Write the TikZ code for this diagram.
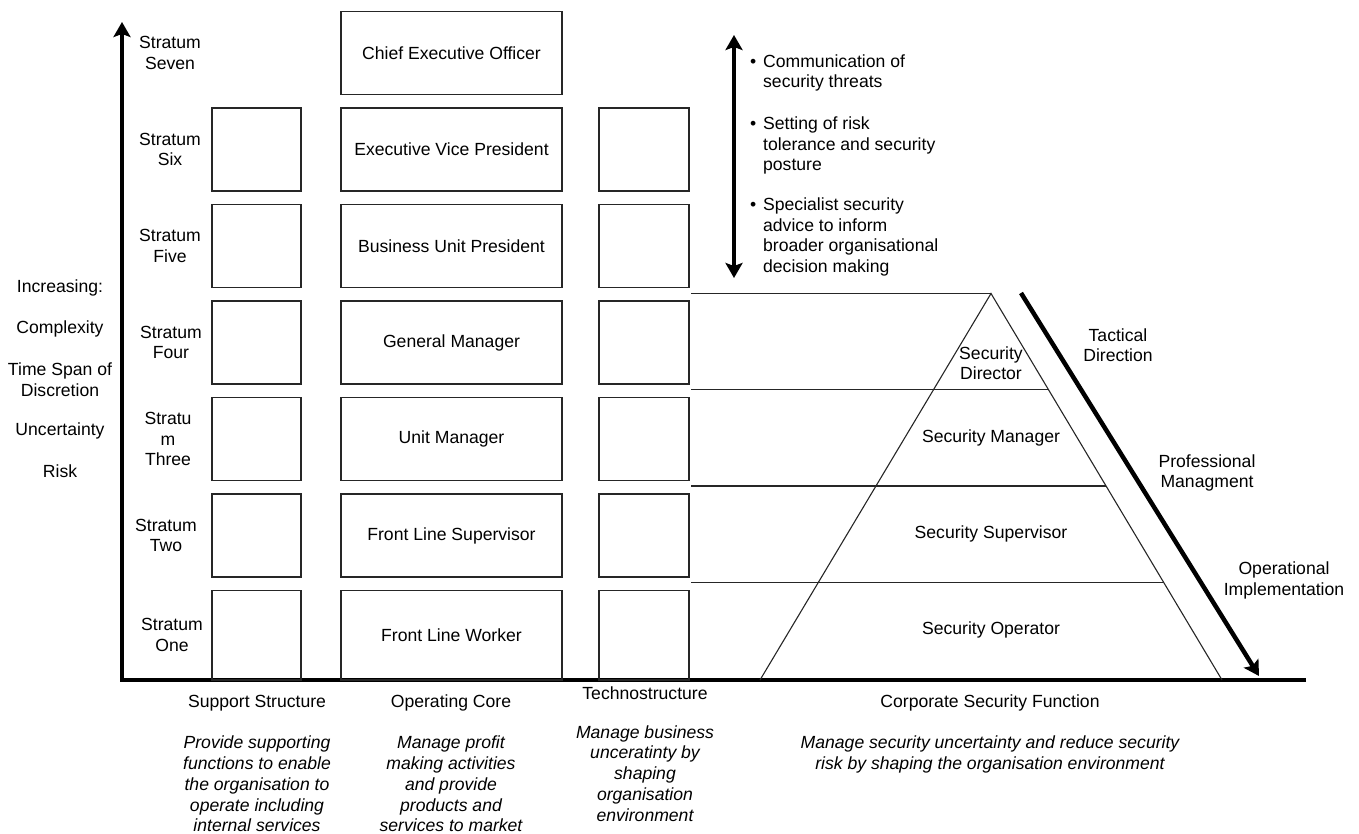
\documentclass[tikz,border=0pt]{standalone}
\usepackage{fontspec}
\setmainfont{Liberation Sans}
\usetikzlibrary{arrows.meta}
\begin{document}
\begin{tikzpicture}[x=1pt,y=-1pt,
  every node/.style={font=\fontsize{17.6}{20.5}\selectfont, text=black, inner sep=0pt},
  cell/.style={draw=black!85, line width=1.5pt, minimum height=83pt},
  supbox/.style={cell, minimum width=89pt},
  corebox/.style={cell, minimum width=221pt},
  techbox/.style={cell, minimum width=90pt},
  lbl/.style={align=center},
  desc/.style={align=center, font=\fontsize{17.6}{20.8}\selectfont\itshape},
  thinline/.style={draw=black!85, line width=1.3pt},
  pyrline/.style={draw=black!85, line width=1.1pt},
  axisline/.style={line width=4.5pt, draw=black, line join=miter},
  bigtip/.style={-{Stealth[length=15pt,width=17pt,inset=3pt]}},
  dbltip/.style={{Stealth[length=15pt,width=17pt,inset=3pt]}-{Stealth[length=15pt,width=17pt,inset=3pt]}},
]
\useasboundingbox (0,0) rectangle (1359,834);

% axes
\coordinate (origin) at (122,680);
\coordinate (ytop) at (122,22);
\coordinate (xend) at (1306,680);
\draw[axisline, bigtip] (xend) -- (origin) -- (ytop);

% operating core
\node[corebox] (ceo) at (451.5,53) {Chief Executive Officer};
\node[corebox] (evp) at (451.5,149.5) {Executive Vice President};
\node[corebox] (bup) at (451.5,246) {Business Unit President};
\node[corebox] (gm)  at (451.5,342.5) {General Manager};
\node[corebox] (um)  at (451.5,439) {Unit Manager};
\node[corebox] (fls) at (451.5,535.5) {Front Line Supervisor};
\node[corebox, minimum height=89.5pt] (flw) at (451.5,635.25) {Front Line Worker};

% support structure
\node[supbox] (s6) at (256.5,149.5) {};
\node[supbox] (s5) at (256.5,246) {};
\node[supbox] (s4) at (256.5,342.5) {};
\node[supbox] (s3) at (256.5,439) {};
\node[supbox] (s2) at (256.5,535.5) {};
\node[supbox, minimum height=89.5pt] (s1) at (256.5,635.25) {};

% technostructure
\node[techbox] (t6) at (644,149.5) {};
\node[techbox] (t5) at (644,246) {};
\node[techbox] (t4) at (644,342.5) {};
\node[techbox] (t3) at (644,439) {};
\node[techbox] (t2) at (644,535.5) {};
\node[techbox, minimum height=89.5pt] (t1) at (644,635.25) {};

% strata labels
\node[lbl] (st7) at (170,53) {Stratum\\Seven};
\node[lbl] (st6) at (170,149.5) {Stratum\\Six};
\node[lbl] (st5) at (170,246) {Stratum\\Five};
\node[lbl] (st4) at (171,342.5) {Stratum\\Four};
\node[lbl] (st3) at (168,439) {Stratu\\m\\Three};
\node[lbl] (st2) at (166,535.5) {Stratum\\Two};
\node[lbl] (st1) at (172,635) {Stratum\\One};

% left labels
\node (inc) at (60,288) {Increasing:};
\node (cpx) at (60,329) {Complexity};
\node[lbl] (tsd) at (60,379.5) {Time Span of\\Discretion};
\node (unc) at (60,431) {Uncertainty};
\node (rsk) at (60,471) {Risk};

% top-right double arrow and bullets
\coordinate (datop) at (734,35);
\coordinate (dabot) at (734,278);
\draw[line width=3.5pt, draw=black, dbltip] (datop) -- (dabot);
\node[anchor=west] (b1) at (750,73.5) {\begin{tabular}{@{}l@{\hspace{6.8pt}}l@{}}\textbullet & Communication of\\ & security threats\end{tabular}};
\node[anchor=west] (b2) at (750,146) {\begin{tabular}{@{}l@{\hspace{6.8pt}}l@{}}\textbullet & Setting of risk\\ & tolerance and security\\ & posture\end{tabular}};
\node[anchor=west] (b3) at (750,237.5) {\begin{tabular}{@{}l@{\hspace{6.8pt}}l@{}}\textbullet & Specialist security\\ & advice to inform\\ & broader organisational\\ & decision making\end{tabular}};

% pyramid
\coordinate (apex) at (991,293.5);
\coordinate (bl) at (760,680);
\coordinate (br) at (1222,680);
\draw[pyrline] (bl) -- (apex) -- (br);
\coordinate (h0a) at (691,293.5);
\coordinate (h1a) at (691,389.5);
\coordinate (h1b) at (1048.4,389.5);
\coordinate (h2a) at (691,486);
\coordinate (h2b) at (1106,486);
\coordinate (h3a) at (691,582.5);
\coordinate (h3b) at (1163.7,582.5);
\draw[thinline] (h0a) -- (apex);
\draw[thinline] (h1a) -- (h1b);
\draw[thinline] (h2a) -- (h2b);
\draw[thinline] (h3a) -- (h3b);
\node[lbl] (sdir) at (991,363) {Security\\Director};
\node (sman) at (991,438) {Security Manager};
\node (ssup) at (991,534) {Security Supervisor};
\node (sop) at (991,630) {Security Operator};

% diagonal arrow
\coordinate (dgs) at (1021,293);
\coordinate (dge) at (1259,676);
\draw[line width=4.5pt, draw=black, bigtip] (dgs) -- (dge);
\node[lbl] (tac) at (1118,345) {Tactical\\Direction};
\node[lbl] (pro) at (1207,473) {Professional\\Managment};
\node[lbl] (ope) at (1284,580.5) {Operational\\Implementation};

% bottom labels
\node (hsup) at (257,703) {Support Structure};
\node (hcore) at (451,703) {Operating Core};
\node (htech) at (645,693) {Technostructure};
\node (hcsf) at (990,703) {Corporate Security Function};
\node[desc] (dsup) at (257,784) {Provide supporting\\functions to enable\\the organisation to\\operate including\\internal services};
\node[desc] (dcore) at (451,784) {Manage profit\\making activities\\and provide\\products and\\services to market};
\node[desc] (dtech) at (645,773.5) {Manage business\\unceratinty by\\shaping\\organisation\\environment};
\node[desc] (dcsf) at (990,754.5) {Manage security uncertainty and reduce security\\risk by shaping the organisation environment};
\end{tikzpicture}
\end{document}
